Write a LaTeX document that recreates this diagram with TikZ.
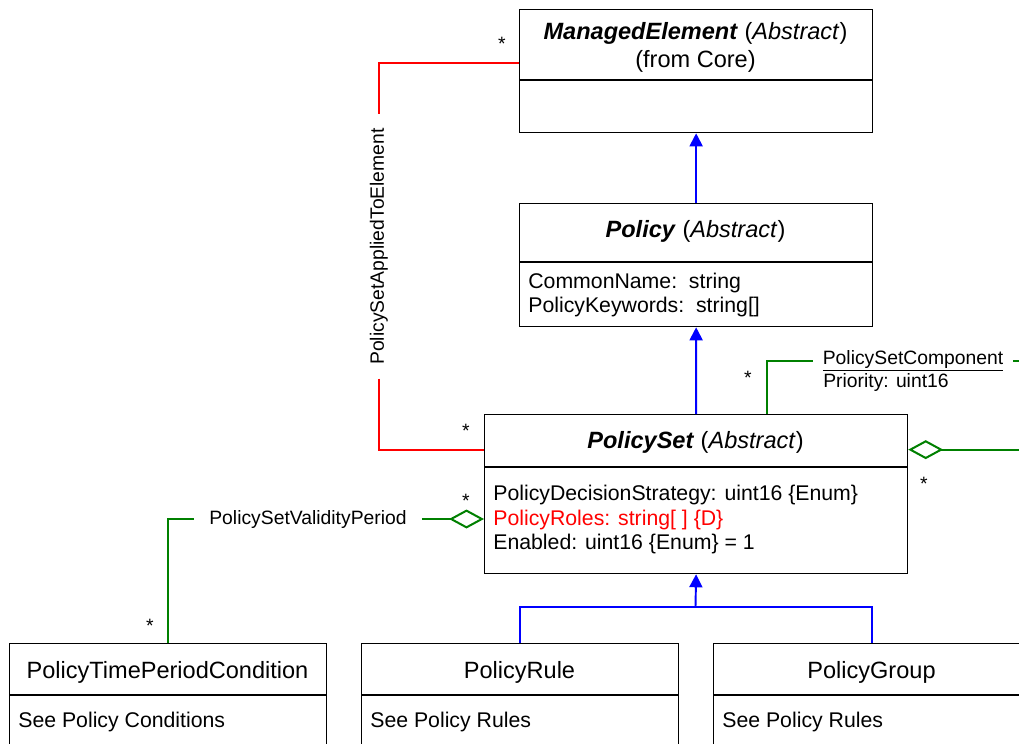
\documentclass[tikz,border=0pt]{standalone}
\usepackage{fontspec}
\setmainfont{Liberation Sans}
\usetikzlibrary{arrows.meta}

\definecolor{assocgreen}{RGB}{0,128,0}

\tikzset{
	cls/.style={draw=black, line width=0.75pt, anchor=north west, inner sep=0},
	title/.style={font=\fontsize{13.4}{15}\selectfont, inner sep=0},
	attr/.style={font=\fontsize{12.1}{14}\selectfont, anchor=west, inner sep=0},
	lbl/.style={font=\fontsize{11}{13}\selectfont},
	mult/.style={font=\fontsize{11}{13}\selectfont, inner sep=0},
	inherit/.style={blue, line width=1.1pt, -{Triangle[length=0.26cm, width=0.26cm]}},
	assoc/.style={red, line width=1.1pt},
	aggr/.style={assocgreen, line width=1.15pt},
	agg/.tip={Diamond[open, length=0.7cm, width=0.38cm]}
}

\begin{document}
\begin{tikzpicture}[x=0.02cm, y=-0.02cm]
	\useasboundingbox (0,0) rectangle (1019,744);
	\clip (0,0) rectangle (1019,744);

	% classes
	\node [cls, minimum width=7.06cm, minimum height=2.46cm] (me) at (519,9) {};
	\draw [line width=0.75pt] (519,80) -- (872,80);
	\node [title] at (695.5,33) {\textbf{\textit{ManagedElement}} (\textit{Abstract})};
	\node [title] at (695.5,61) {(from Core)};

	\node [cls, minimum width=7.06cm, minimum height=2.46cm] (pol) at (519,203) {};
	\draw [line width=0.75pt] (519,262) -- (872,262);
	\node [title] at (695.5,231) {\textbf{\textit{Policy}} (\textit{Abstract})};
	\node [attr] at (528,283) {CommonName:\ \ string};
	\node [attr] at (528,307) {PolicyKeywords:\ \ string[]};

	\node [cls, minimum width=8.46cm, minimum height=3.18cm] (ps) at (484,414) {};
	\draw [line width=0.75pt] (484,467) -- (907,467);
	\node [title] at (695.5,442) {\textbf{\textit{PolicySet}} (\textit{Abstract})};
	\node [attr] at (493,495) {PolicyDecisionStrategy: uint16 \{Enum\}};
	\node [attr, red] at (493,520) {PolicyRoles: string[ ] \{D\}};
	\node [attr] at (493,544) {Enabled: uint16 \{Enum\} = 1};

	\node [cls, minimum width=6.34cm, minimum height=3.04cm] (ptpc) at (9,643) {};
	\draw [line width=0.75pt] (9,695) -- (326,695);
	\node [title] at (167.5,672) {PolicyTimePeriodCondition};
	\node [attr] at (18,722) {See Policy Conditions};

	\node [cls, minimum width=6.34cm, minimum height=3.04cm] (pr) at (361,643) {};
	\draw [line width=0.75pt] (361,695) -- (678,695);
	\node [title] at (519.5,672) {PolicyRule};
	\node [attr] at (370,722) {See Policy Rules};

	\node [cls, minimum width=6.34cm, minimum height=3.04cm] (pg) at (713,643) {};
	\draw [line width=0.75pt] (713,695) -- (1030,695);
	\node [title] at (871.5,672) {PolicyGroup};
	\node [attr] at (722,722) {See Policy Rules};

	% inheritance
	\draw [inherit] (pol.north) -- (me.south);
	\draw [inherit] (ps.north) -- (pol.south);
	\coordinate (jn) at (695.5,607);
	\draw [inherit, -] (pr.north) |- (pg.north |- jn) -- (pg.north);
	\draw [inherit] (jn) -- (ps.south);

	% associations
	\node [lbl, rotate=90, inner xsep=0.27cm] (psate) at (379,246.5) {PolicySetAppliedToElement};
	\draw [assoc] ([yshift=0.17cm]me.west) -| (psate.east);
	\draw [assoc] (psate.west) |- ([yshift=0.89cm]ps.west);

	\node [lbl, inner xsep=0.3cm] (psvp) at (308,519) {PolicySetValidityPeriod};
	\draw [aggr] (ptpc.north) |- (psvp.west);
	\draw [aggr, -agg] (psvp.east) -- (ps.west |- psvp.east);

	\node [lbl, anchor=west, inner xsep=0.19cm] (psc) at (813,361) {\underline{PolicySetComponent}};
	\node [lbl, anchor=north west, inner sep=0] (prio) at (823,373) {Priority: uint16};
	\draw [aggr] ([xshift=1.41cm]ps.north) |- (psc.west);
	\draw [aggr] (psc.east) -- ++(2cm,0);
	\draw [aggr, agg-] ([yshift=0.89cm]ps.east) -- ++(3cm,0);

	% multiplicities
	\node [mult] at (502,44) {*};
	\node [mult] at (466,431) {*};
	\node [mult] at (466,501) {*};
	\node [mult] at (150,626) {*};
	\node [mult] at (748,378) {*};
	\node [mult] at (924,484) {*};
\end{tikzpicture}
\end{document}
